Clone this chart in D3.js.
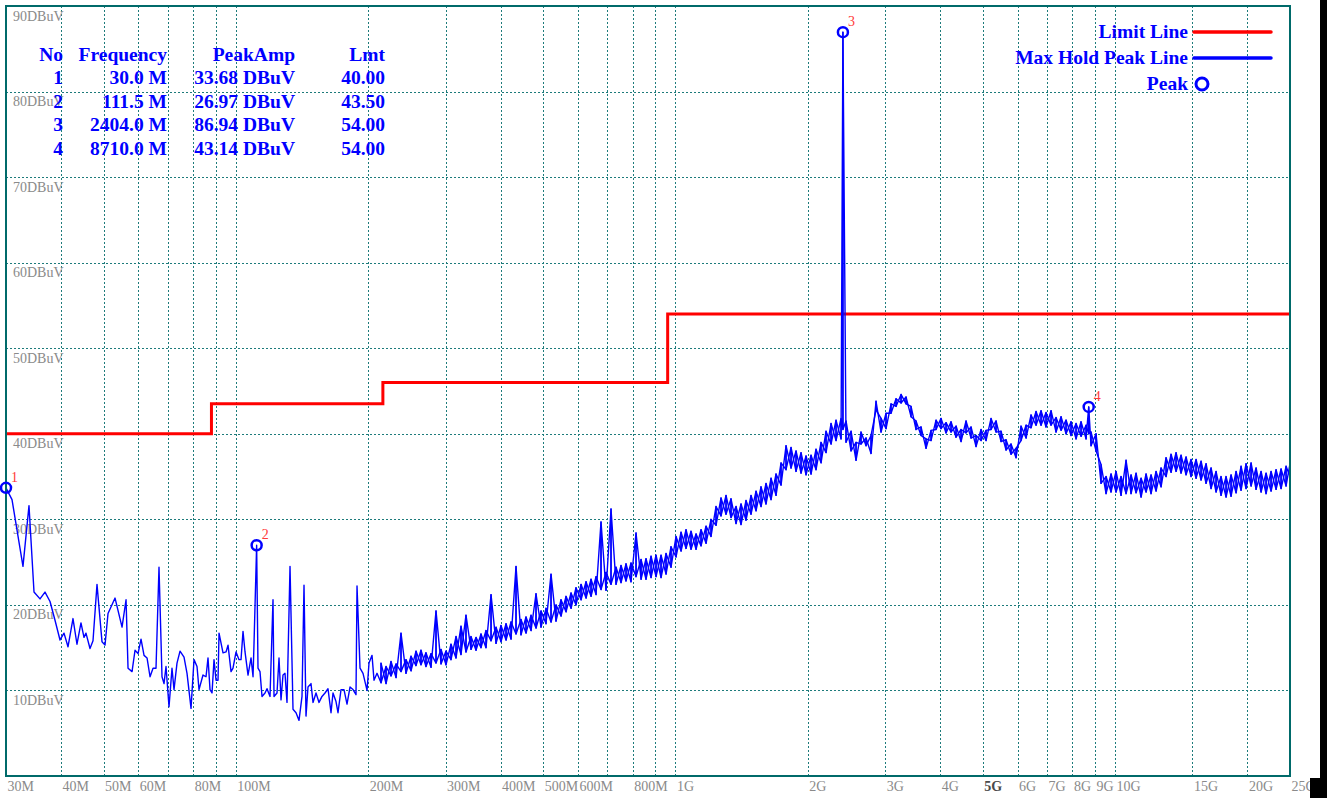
<!DOCTYPE html>
<html>
<head>
<meta charset="utf-8">
<script src="https://cdn.jsdelivr.net/npm/d3@7"></script>
<style>
  html, body { margin: 0; padding: 0; background: #fff; }
  svg { display: block; font-family: "Liberation Serif", "Times New Roman", serif; }
</style>
</head>
<body>
<svg id="chart" width="1327" height="798"></svg>
<script>
/* sweep below ~210 MHz: single points (MHz, dBuV) */
var lowFreq = [30.0, 30.96, 32.79, 33.84, 34.74, 35.85, 36.80, 37.78, 38.78,
  39.81, 40.65, 41.51, 42.61, 43.51, 44.43, 45.14, 45.61, 46.58, 47.32, 48.32, 49.60, 50.39,
  51.19, 53.11, 55.09, 56.26, 56.85, 58.05, 58.97, 59.91, 60.85, 61.82, 62.80, 63.79, 64.80,
  65.82, 66.86, 67.92, 68.64, 69.36, 70.46, 71.57, 72.33, 73.47, 74.64, 76.22, 77.43, 79.07, 80.32, 81.59, 82.45, 84.19,
  85.53, 86.43, 87.34, 88.26, 89.19, 90.13, 91.08, 91.56, 93.50, 94.98, 95.98, 97.50, 98.52, 100.09, 101.67, 102.74, 103.82, 104.92, 106.58, 108.27, 109.41, 109.98, 111.5,
  112.30, 113.48, 114.68, 116.50, 117.72, 119.59, 121.48, 122.12, 124.05, 125.36, 126.68, 128.01, 129.36, 130.72, 132.80, 134.90, 137.04, 139.21, 141.41, 142.90,
  144.40, 145.92, 148.23, 149.79, 152.17, 154.58, 157.02, 159.51, 162.04, 164.61, 166.34, 168.97, 170.75, 173.46, 176.20, 179.00, 181.83, 184.71,
  187.64, 188.63, 191.62, 194.65, 198.77, 200.86, 204.05, 206.19, 209.46];
var lowLevel = [33.68, 32.3, 24.5, 31.6, 21.5, 20.7, 21.5, 20.4, 18.2,
  15.9, 16.7, 15.1, 18.4, 15.4, 17.9, 16.2, 16.7, 14.9, 15.8, 22.4, 15.7, 15.3,
  19.0, 20.8, 17.4, 20.6, 12.6, 12.2, 14.7, 14.3, 16.0, 14.1, 13.8, 11.6, 12.6,
  12.6, 24.4, 11.6, 10.8, 12.8, 8.1, 12.6, 10.1, 13.2, 14.6, 13.9, 12.0, 7.9, 13.6, 12.8, 10.1, 11.8,
  11.6, 13.8, 10.1, 9.7, 13.6, 11.2, 11.2, 16.7, 14.4, 14.5, 15.3, 12.2, 12.6, 14.5, 13.6, 13.6, 16.9, 14.5, 11.8, 13.8, 11.6, 15.5, 26.97,
  12.6, 12.2, 9.3, 9.7, 10.2, 9.3, 20.6, 9.3, 9.7, 13.8, 8.9, 11.8, 12.0, 8.6, 24.5, 7.8, 7.4, 6.5, 9.3, 22.3,
  7.0, 10.4, 10.8, 8.6, 9.7, 8.6, 9.3, 9.7, 10.2, 7.4, 9.7, 8.7, 7.4, 10.1, 10.1, 8.4, 10.4, 10.1,
  9.5, 22.2, 12.6, 12.0, 10.0, 13.2, 14.1, 11.2, 12.0];

/* dense sweep above ~210 MHz: min / max per display column */
var bandFreq = [213.9, 219.6, 225.4, 231.4, 237.5,
  243.8, 250.3, 256.9, 263.7, 270.7, 277.9, 285.3, 292.9, 300.6, 308.6,
  316.8, 325.2, 333.8, 342.7, 351.8, 361.1, 370.7, 380.6, 390.7, 401.0,
  411.7, 422.6, 433.8, 445.3, 457.1, 469.3, 481.7, 494.5, 507.6, 521.1,
  534.9, 549.1, 563.7, 578.7, 594.0, 609.8, 626.0, 642.6, 659.6, 677.1,
  695.1, 713.5, 732.5, 751.9, 771.9, 792.3, 813.4, 835.0, 857.1, 879.9,
  903.2, 927.2, 951.8, 977.0, 1003.0, 1029.6, 1056.9, 1085.0, 1113.7, 1143.3,
  1173.6, 1204.7, 1236.7, 1269.5, 1303.2, 1337.8, 1373.3, 1409.8, 1447.2, 1485.6,
  1525.0, 1565.5, 1607.0, 1649.7, 1693.4, 1738.4, 1784.5, 1831.9, 1880.5, 1930.4,
  1981.6, 2034.2, 2088.2, 2143.6, 2200.5, 2258.9, 2318.8, 2380.4, 2404.0, 2443.5, 2508.4,
  2574.9, 2643.2, 2713.4, 2785.4, 2859.3, 2935.2, 3013.1, 3093.1, 3175.1, 3259.4,
  3345.8, 3434.6, 3525.7, 3619.3, 3715.3, 3813.9, 3915.2, 4019.1, 4125.7, 4235.2,
  4347.6, 4463.0, 4581.4, 4703.0, 4827.8, 4955.9, 5087.5, 5222.5, 5361.1, 5503.3,
  5649.3, 5799.2, 5953.2, 6111.2, 6273.3, 6439.8, 6610.8, 6786.2, 6966.2, 7151.1,
  7340.8, 7535.6, 7735.6, 7940.9, 8151.6, 8367.9, 8590.1, 8710.0, 8818.1, 9052.0, 9292.2,
  9538.7, 9791.9, 10051.7, 10318.5, 10592.3, 10873.4, 11162.2, 11458.4, 11762.3, 12074.4,
  12395, 12724, 13062, 13408, 13764, 14129, 14504, 14889, 15284, 15690,
  16106, 16533, 16972, 17423, 17885, 18360, 18847, 19347, 19860, 20388,
  20928, 21483, 22054, 22639, 23240, 23857, 24490, 25000];
var bandLo = [10.9, 10.8, 11.7, 11.5, 12.2,
  12.0, 12.3, 12.9, 13.0, 12.8, 12.7, 13.2, 13.1, 13.0, 13.6,
  13.8, 14.2, 14.5, 14.8, 14.7, 15.0, 15.0, 15.8, 15.5, 15.7,
  15.9, 16.0, 16.6, 16.5, 16.7, 17.0, 17.3, 17.4, 17.8, 18.0,
  18.1, 18.7, 19.2, 19.6, 20.0, 20.6, 20.8, 21.0, 21.2, 21.8,
  21.7, 22.4, 22.4, 22.6, 22.8, 22.7, 23.3, 23.0, 23.0, 23.2,
  23.3, 23.2, 23.6, 24.4, 25.6, 26.3, 26.6, 26.5, 26.5, 26.9,
  27.2, 28.0, 29.3, 30.4, 30.6, 30.2, 29.5, 29.4, 29.9, 30.6,
  31.0, 31.5, 31.8, 32.3, 32.8, 34.0, 35.8, 36.0, 35.6, 35.4,
  35.2, 35.3, 35.8, 36.6, 37.8, 38.8, 39.2, 39.4, 40.5, 39.0, 38.0,
  36.9, 38.8, 38.6, 37.7, 42.8, 40.2, 40.6, 42.4, 43.2, 43.6,
  43.5, 42.0, 40.5, 39.8, 38.3, 39.2, 40.5, 40.6, 40.1, 40.2,
  39.6, 39.1, 40.1, 39.5, 38.5, 39.2, 39.2, 40.5, 40.2, 39.1,
  38.1, 37.6, 37.2, 39.2, 39.5, 40.7, 41.0, 41.0, 40.8, 41.0,
  40.2, 40.4, 40.0, 39.8, 39.4, 39.7, 39.4, 40.0, 38.6, 38.0, 34.2,
  33.0, 33.2, 33.2, 32.8, 33.0, 33.0, 33.1, 32.6, 33.2, 33.0,
  33.3, 33.8, 35.0, 35.5, 35.6, 35.4, 35.2, 35.0, 34.8, 34.6,
  34.2, 33.6, 33.2, 32.8, 32.6, 32.7, 33.1, 33.4, 33.6, 33.9,
  33.5, 33.2, 33.0, 33.3, 33.5, 33.6, 33.9, 35.0];
var bandHi = [13.2, 12.8, 13.4, 13.1, 16.7,
  13.6, 14.0, 14.6, 14.7, 14.4, 14.3, 19.3, 14.8, 14.6, 15.4,
  16.3, 17.5, 18.8, 16.3, 16.2, 16.6, 17.0, 21.2, 17.4, 17.6,
  17.8, 18.0, 24.5, 18.3, 18.6, 18.8, 21.3, 19.3, 19.6, 23.6,
  20.0, 20.6, 21.0, 21.4, 22.0, 22.4, 22.7, 23.0, 23.3, 29.7,
  23.8, 31.2, 24.4, 24.6, 24.8, 24.9, 28.4, 25.3, 25.4, 25.7,
  25.8, 25.8, 26.0, 26.8, 28.0, 28.5, 28.8, 28.6, 28.3, 28.8,
  29.2, 30.0, 31.5, 32.5, 32.8, 32.4, 31.5, 31.8, 32.2, 32.8,
  33.3, 33.8, 34.2, 34.8, 35.3, 36.6, 38.6, 38.4, 38.0, 37.8,
  37.4, 37.5, 38.2, 39.0, 40.3, 41.2, 41.6, 41.8, 86.94, 41.5, 40.3,
  39.0, 40.2, 39.5, 39.8, 43.8, 41.8, 42.4, 43.5, 44.1, 44.6,
  44.3, 43.2, 41.5, 40.8, 39.4, 40.4, 41.6, 41.8, 41.3, 41.4,
  40.9, 40.5, 41.5, 40.8, 39.8, 40.5, 40.4, 41.8, 41.5, 40.3,
  39.3, 38.8, 38.3, 40.9, 41.0, 42.2, 42.6, 42.7, 42.5, 42.7,
  41.9, 42.0, 41.6, 41.4, 41.2, 41.4, 41.0, 43.14, 40.2, 40.0, 36.4,
  35.0, 35.3, 35.6, 35.0, 36.9, 35.2, 35.4, 34.8, 35.3, 35.2,
  35.6, 36.0, 37.2, 37.6, 37.8, 37.5, 37.3, 37.0, 37.0, 36.8,
  36.5, 36.0, 35.6, 35.0, 35.0, 35.2, 35.6, 36.2, 36.5, 36.6,
  36.0, 35.6, 35.4, 35.6, 35.8, 35.9, 36.2, 36.5];

/* limit line steps */
var limitEdges = [30, 88, 216, 960, 25000];
var limitValues = [40, 43.5, 46, 54];

/* marked peaks */
var peakNo = [1, 2, 3, 4];
var peakFreq = [30.0, 111.5, 2404.0, 8710.0];
var peakAmp = [33.68, 26.97, 86.94, 43.14];
var peakLmt = [40.00, 43.50, 54.00, 54.00];

/* axes */
var gridFreqs = [40, 50, 60, 70, 80, 90, 100, 200, 300, 400, 500, 600, 700, 800, 900,
  1000, 2000, 3000, 4000, 5000, 6000, 7000, 8000, 9000, 10000, 15000, 20000];
var tickFreqs = [30, 40, 50, 60, 80, 100, 200, 300, 400, 500, 600, 800,
  1000, 2000, 3000, 4000, 5000, 6000, 7000, 8000, 9000, 10000, 15000, 20000, 25000];
var tickText = ["30M", "40M", "50M", "60M", "80M", "100M", "200M", "300M", "400M", "500M", "600M", "800M",
  "1G", "2G", "3G", "4G", "5G", "6G", "7G", "8G", "9G", "10G", "15G", "20G", "25G"];
var levelTicks = [10, 20, 30, 40, 50, 60, 70, 80, 90];

var canvas_width = 1327,
    canvas_height = 798;
/* plot frame (do not name these top/left: window.top is read-only) */
var plotL = 6, plotR = 1290, plotT = 6, plotB = 776;

var gridColor = "#1d7b7b",
    frameColor = "#006a6a",
    labelColor = "#8a8a8a",
    blue = "#0000ff",
    red = "#ff0000";

var x = d3.scaleLog().domain([30, 25000]).range([plotL, plotR]);
var y = d3.scaleLinear().domain([0, 90]).range([plotB, plotT]);

var svg = d3.select("#chart");
svg.append("rect")
  .attr("width", canvas_width)
  .attr("height", canvas_height)
  .attr("fill", "#fff");

/* vertical grid */
var xGrid = svg.append("g")
  .attr("transform", "translate(0," + plotB + ")")
  .call(d3.axisBottom(x).tickValues(gridFreqs).tickSize(-(plotB - plotT)).tickFormat(""));
xGrid.select(".domain").remove();
xGrid.selectAll("line")
  .attr("stroke", gridColor)
  .attr("stroke-dasharray", "2,2")
  .attr("shape-rendering", "crispEdges");

/* horizontal grid */
var yGrid = svg.append("g")
  .attr("transform", "translate(" + plotL + ",0)")
  .call(d3.axisLeft(y).tickValues(levelTicks.slice(0, -1)).tickSize(-(plotR - plotL)).tickFormat(""));
yGrid.select(".domain").remove();
yGrid.selectAll("line")
  .attr("stroke", gridColor)
  .attr("stroke-dasharray", "2,2")
  .attr("shape-rendering", "crispEdges");

/* level labels inside the plot */
var yLabels = svg.append("g")
  .attr("transform", "translate(" + plotL + ",0)")
  .call(d3.axisRight(y).tickValues(levelTicks).tickSize(0).tickFormat(function(d) { return d + "DBuV"; }));
yLabels.select(".domain").remove();
yLabels.selectAll("text")
  .attr("x", 7)
  .attr("y", 14)
  .attr("dy", 0)
  .attr("text-anchor", "start")
  .attr("fill", labelColor)
  .style("font-family", "'Liberation Serif', 'Times New Roman', serif")
  .style("font-size", "14px");

/* frequency labels under the plot */
var xLabels = svg.append("g")
  .attr("transform", "translate(0," + plotB + ")")
  .call(d3.axisBottom(x).tickValues(tickFreqs).tickSize(0).tickFormat(function(d, i) { return tickText[i]; }));
xLabels.select(".domain").remove();
xLabels.selectAll("text")
  .attr("x", 1)
  .attr("y", 15)
  .attr("dy", 0)
  .attr("text-anchor", "start")
  .attr("fill", function(d, i) { return tickText[i] == "5G" ? "#4a4a4a" : labelColor; })
  .style("font-weight", function(d, i) { return tickText[i] == "5G" ? "bold" : "normal"; })
  .style("font-family", "'Liberation Serif', 'Times New Roman', serif")
  .style("font-size", "14px");

/* clip for traces */
svg.append("clipPath").attr("id", "plotClip")
  .append("rect")
    .attr("x", plotL).attr("y", plotT)
    .attr("width", plotR - plotL).attr("height", plotB - plotT);

var traceLine = d3.line()
  .x(function(d) { return x(d[0]); })
  .y(function(d) { return y(d[1]); });

/* limit line */
var limitPts = limitValues.map(function(v, i) { return [limitEdges[i], v]; });
limitPts.push([limitEdges[limitEdges.length - 1], limitValues[limitValues.length - 1]]);
svg.append("path")
  .attr("clip-path", "url(#plotClip)")
  .attr("d", d3.line().curve(d3.curveStepAfter)
    .x(function(d) { return x(d[0]); })
    .y(function(d) { return y(d[1]); })(limitPts))
  .attr("fill", "none")
  .attr("stroke", red)
  .attr("stroke-width", 3);

/* max hold trace: sparse part, then dense part drawn min->max and max->min
   so the columns cross like the analyser's filled display */
var tracePts = [];
for (var i = 0; i < lowFreq.length; i++) {
  tracePts.push([lowFreq[i], lowLevel[i]]);
}
var crossPts = [];
for (var j = 0; j < bandFreq.length; j++) {
  tracePts.push([bandFreq[j], bandLo[j]]);
  tracePts.push([bandFreq[j], bandHi[j]]);
  crossPts.push([bandFreq[j], bandHi[j]]);
  crossPts.push([bandFreq[j], bandLo[j]]);
}
svg.append("path")
  .attr("clip-path", "url(#plotClip)")
  .attr("d", traceLine(crossPts))
  .attr("fill", "none")
  .attr("stroke", blue)
  .attr("stroke-width", 1.4)
  .attr("stroke-linejoin", "round");
svg.append("path")
  .attr("clip-path", "url(#plotClip)")
  .attr("d", traceLine(tracePts))
  .attr("fill", "none")
  .attr("stroke", blue)
  .attr("stroke-width", 1.4)
  .attr("stroke-linejoin", "round");

/* plot frame */
svg.append("rect")
  .attr("x", plotL).attr("y", plotT)
  .attr("width", plotR - plotL).attr("height", plotB - plotT)
  .attr("fill", "none")
  .attr("stroke", frameColor)
  .attr("stroke-width", 2);

/* peak markers */
var peaks = svg.append("g");
peaks.selectAll("circle")
  .data(peakNo)
  .enter()
    .append("circle")
      .attr("cx", function(d, i) { return x(peakFreq[i]); })
      .attr("cy", function(d, i) { return y(peakAmp[i]); })
      .attr("r", 5)
      .attr("fill", "none")
      .attr("stroke", blue)
      .attr("stroke-width", 2.5);
peaks.selectAll("text")
  .data(peakNo)
  .enter()
    .append("text")
      .attr("x", function(d, i) { return x(peakFreq[i]) + 5; })
      .attr("y", function(d, i) { return y(peakAmp[i]) - 6; })
      .attr("fill", "#ff3a3a")
      .style("font-size", "14px")
      .text(function(d) { return d; });

/* peak table */
var colRight = [63, 167, 295, 385];
var tableRows = [["No", "Frequency", "PeakAmp", "Lmt"]];
for (var k = 0; k < peakNo.length; k++) {
  tableRows.push([String(peakNo[k]), peakFreq[k].toFixed(1) + " M",
    peakAmp[k].toFixed(2) + " DBuV", peakLmt[k].toFixed(2)]);
}
var table = svg.append("g")
  .attr("fill", blue)
  .style("font-weight", "bold")
  .style("font-size", "19.5px");
tableRows.forEach(function(row, r) {
  row.forEach(function(cell, c) {
    table.append("text")
      .attr("x", colRight[c])
      .attr("y", 61 + r * 23.4)
      .attr("text-anchor", "end")
      .text(cell);
  });
});

/* legend */
var legendNames = ["Limit Line", "Max Hold Peak Line", "Peak"];
var legendColors = [red, blue, blue];
var legend = svg.append("g")
  .style("font-weight", "bold")
  .style("font-size", "19.5px");
legendNames.forEach(function(name, i) {
  var cy = 32 + i * 26;
  legend.append("text")
    .attr("x", 1188)
    .attr("y", cy + 6)
    .attr("text-anchor", "end")
    .attr("fill", blue)
    .text(name);
  if (i < 2) {
    legend.append("line")
      .attr("x1", 1194).attr("x2", 1271)
      .attr("y1", cy).attr("y2", cy)
      .attr("stroke", legendColors[i])
      .attr("stroke-width", 3.5)
      .attr("stroke-linecap", "round");
  } else {
    legend.append("circle")
      .attr("cx", 1202).attr("cy", cy)
      .attr("r", 6)
      .attr("fill", "none")
      .attr("stroke", blue)
      .attr("stroke-width", 3);
  }
});

/* dark strip on the right edge of the capture */
svg.append("rect")
  .attr("x", 1320).attr("y", 0)
  .attr("width", canvas_width - 1320).attr("height", canvas_height)
  .attr("fill", "#000");
svg.append("rect")
  .attr("x", 1310).attr("y", 778)
  .attr("width", canvas_width - 1310).attr("height", canvas_height - 778)
  .attr("fill", "#000");
</script>
</body>
</html>
